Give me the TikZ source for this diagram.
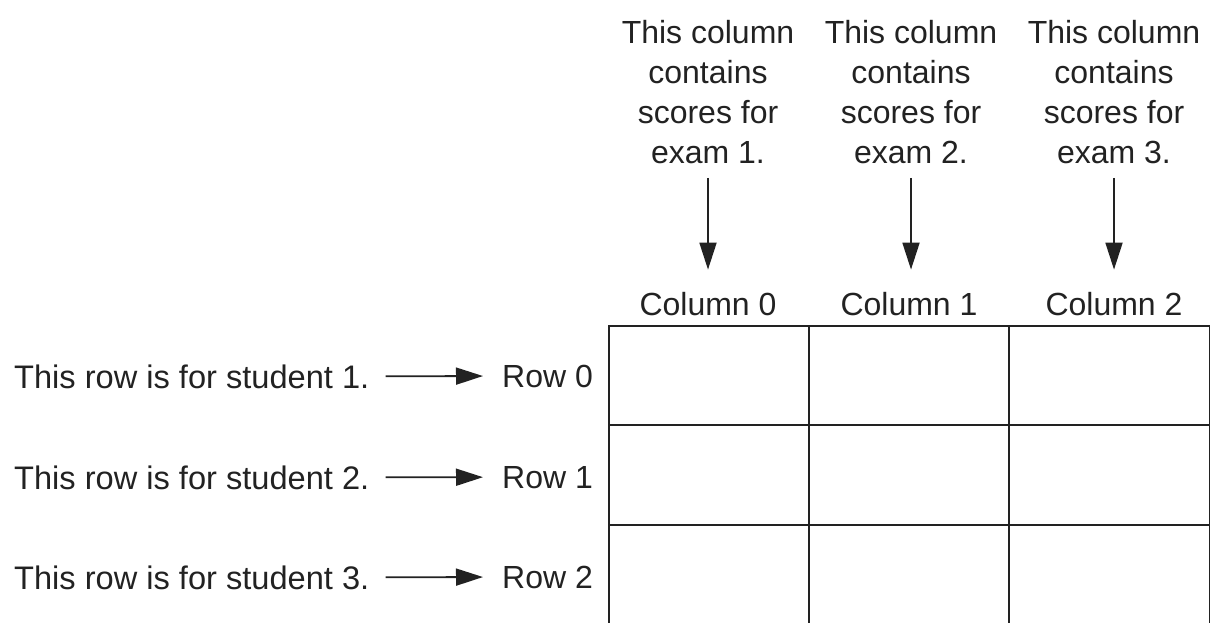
\documentclass[tikz,border=0pt]{standalone}
\usepackage{fontspec}
\setmainfont{Liberation Sans}
\usetikzlibrary{arrows.meta}
\definecolor{ink}{HTML}{222222}
\begin{document}
\begin{tikzpicture}[x=1pt,y=-1pt,
  every node/.style={inner sep=0pt,text=ink,font=\fontsize{32}{40}\selectfont},
  header/.style={align=center,anchor=north},
  collabel/.style={anchor=base},
  rowtext/.style={anchor=base west,font=\fontsize{32.6}{40}\selectfont},
  rowlabel/.style={anchor=base west},
  arr/.style={draw=ink,line width=1.8pt,-{Triangle[length=27pt,width=17pt]}},
  gridline/.style={draw=ink,line width=2.4pt}]
\useasboundingbox (0,0) rectangle (1210,622);
% grid
\foreach \y in {326,425,525}
  \draw[gridline] (608,\y) -- (1212,\y);
\foreach \x in {609,809,1009}
  \draw[gridline] (\x,325) -- (\x,624);
\draw[draw=ink,line width=1.2pt] (1210,325) -- (1210,624);
% column headers
\node[header] (h0) at (708,20) {This column\\contains\\scores for\\exam 1.};
\node[header] (h1) at (911,20) {This column\\contains\\scores for\\exam 2.};
\node[header] (h2) at (1114,20) {This column\\contains\\scores for\\exam 3.};
\node[collabel] (c0) at (708,315) {Column 0};
\node[collabel] (c1) at (909,315) {Column 1};
\node[collabel] (c2) at (1114,315) {Column 2};
\draw[arr,shorten <=14pt,shorten >=22pt] (h0.south) -- (h0.south |- c0.north);
\draw[arr,shorten <=14pt,shorten >=22pt] (h1.south) -- (h1.south |- c1.north);
\draw[arr,shorten <=14pt,shorten >=22pt] (h2.south) -- (h2.south |- c2.north);
% rows
\node[rowtext] (t0) at (14,388) {This row is for student 1.};
\node[rowtext] (t1) at (14,489) {This row is for student 2.};
\node[rowtext] (t2) at (14,589) {This row is for student 3.};
\node[rowlabel] (r0) at (502,387) {Row 0};
\node[rowlabel] (r1) at (502,488) {Row 1};
\node[rowlabel] (r2) at (502,588) {Row 2};
\draw[arr,shorten <=16pt,shorten >=19pt] (t0.east) -- (r0.west);
\draw[arr,shorten <=16pt,shorten >=19pt] (t1.east) -- (r1.west);
\draw[arr,shorten <=16pt,shorten >=19pt] (t2.east) -- (r2.west);
\end{tikzpicture}
\end{document}
